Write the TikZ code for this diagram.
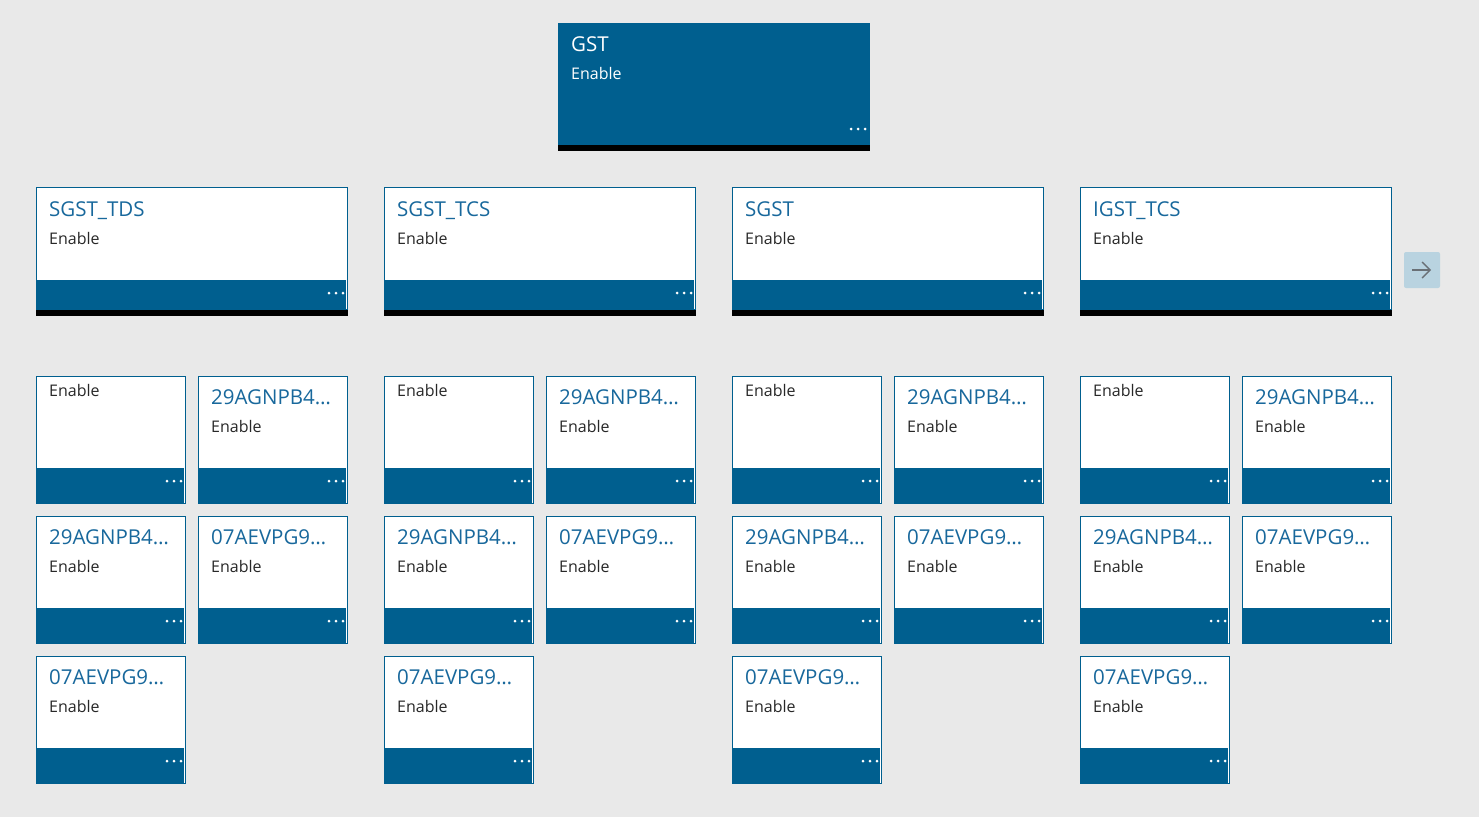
\documentclass[tikz,border=0pt]{standalone}
\usepackage{fontspec}
\setmainfont{Open Sans}
\definecolor{bg}{RGB}{233,233,233}
\definecolor{tileblue}{RGB}{0,95,143}
\definecolor{titleblue}{RGB}{24,104,156}
\definecolor{txt}{RGB}{40,40,40}
\definecolor{btn}{RGB}{185,211,224}
\definecolor{arr}{RGB}{106,112,118}
\tikzset{
 tilebg/.style={draw=tileblue, line width=1pt, fill=white, inner sep=0pt, outer sep=0pt, anchor=north west},
 titletxt/.style={anchor=base west, inner sep=0pt, text=titleblue, font=\fontsize{20.5}{24}\selectfont},
 subtxt/.style={anchor=base west, inner sep=0pt, text=txt, font=\fontsize{16}{19}\selectfont},
}
\newcommand\tileshape[7]{%
 \node[tilebg, minimum width=#4pt-1pt, minimum height=#5pt-1pt] (#1) at (#2+0.5, #3+0.5) {};
 \fill[tileblue] (#2, #3+#5-#6) rectangle (#2+#4-2, #3+#5);
 \foreach \d in {5,12,19} \fill[white] (#2+#4-\d, #3+#5-#6+13) circle (1.5);
 \ifnum#7>0 \fill[black] (#2, #3+#5) rectangle (#2+#4, #3+#5+#7);\fi
}
\begin{document}
\begin{tikzpicture}[x=1pt,y=-1pt]
\fill[bg] (0,0) rectangle (1479,817);
\useasboundingbox (0,0) rectangle (1479,817);
% root tile
\node[fill=tileblue, inner sep=0pt, outer sep=0pt, anchor=north west, minimum width=312pt, minimum height=122pt] (gst) at (558,23) {};
\fill[black] (558,145) rectangle (870,151);
\foreach \d in {5,12,19} \fill[white] (870-\d,129) circle (1.5);
\node[titletxt, text=white] (gstT) at (571,51) {GST};
\node[subtxt, text=white] (gstE) at (571,79) {Enable};
% groups
\foreach \g/\gx/\gname in {1/36/SGST\_TDS, 2/384/SGST\_TCS, 3/732/SGST, 4/1080/IGST\_TCS}{
 \tileshape{m\g}{\gx}{187}{312}{123}{30}{6}
 \node[titletxt] (m\g T) at (\gx+13,216) {\gname};
 \node[subtxt] (m\g E) at (\gx+13,244) {Enable};
 % row 1
 \tileshape{a\g}{\gx}{376}{150}{128}{36}{0}
 \node[subtxt] (a\g E) at (\gx+13,396) {Enable};
 \tileshape{b\g}{\gx+162}{376}{150}{128}{36}{0}
 \node[titletxt] (b\g T) at (\gx+175,404) {29AGNPB4…};
 \node[subtxt] (b\g E) at (\gx+175,432) {Enable};
 % row 2
 \tileshape{c\g}{\gx}{516}{150}{128}{36}{0}
 \node[titletxt] (c\g T) at (\gx+13,544) {29AGNPB4…};
 \node[subtxt] (c\g E) at (\gx+13,572) {Enable};
 \tileshape{d\g}{\gx+162}{516}{150}{128}{36}{0}
 \node[titletxt] (d\g T) at (\gx+175,544) {07AEVPG9…};
 \node[subtxt] (d\g E) at (\gx+175,572) {Enable};
 % row 3
 \tileshape{e\g}{\gx}{656}{150}{128}{36}{0}
 \node[titletxt] (e\g T) at (\gx+13,684) {07AEVPG9…};
 \node[subtxt] (e\g E) at (\gx+13,712) {Enable};
}
% next button
\node[fill=btn, rounded corners=2pt, inner sep=0pt, outer sep=0pt, anchor=north west, minimum width=36pt, minimum height=36pt] (next) at (1404,252) {};
\draw[arr, line width=1.4pt] (1412,270) -- (1430,270);
\draw[arr, line width=1.4pt, line join=miter] (1422,262) -- (1430,270) -- (1422,278);
\end{tikzpicture}
\end{document}
